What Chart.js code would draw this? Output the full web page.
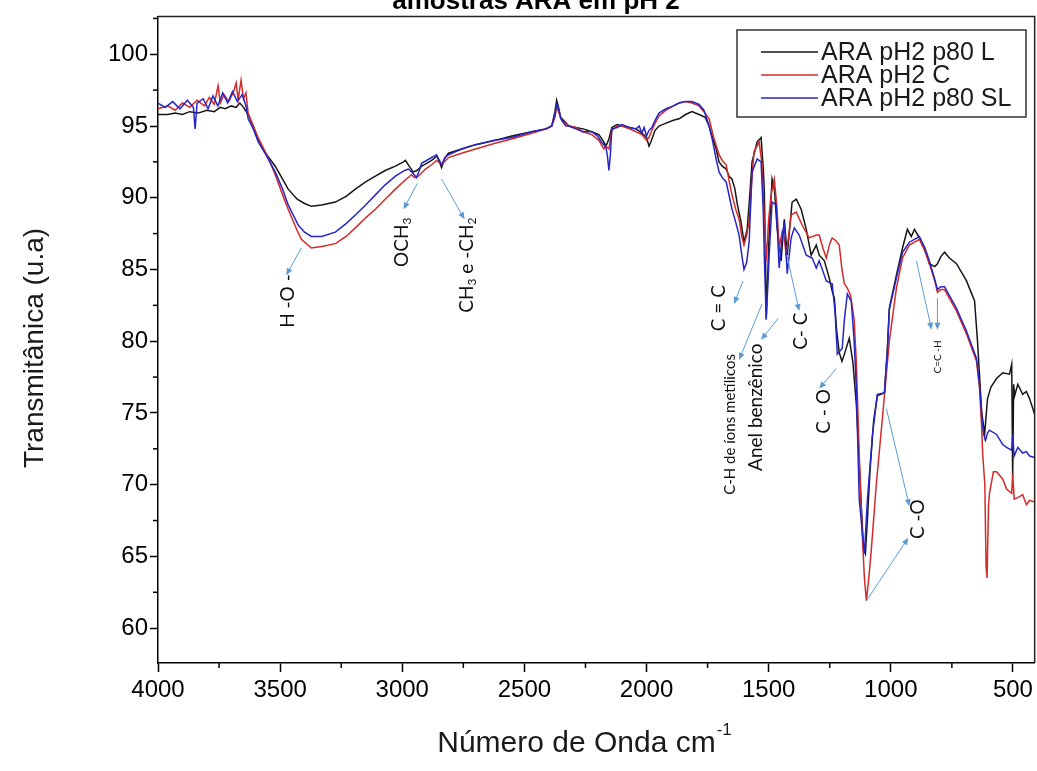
<!DOCTYPE html>
<html><head><meta charset="utf-8">
<script src="https://cdn.jsdelivr.net/npm/chart.js@4.4.1/dist/chart.umd.min.js"></script>
<style>html,body{margin:0;padding:0;background:#fff;}canvas{display:block;}</style>
</head><body>
<canvas id="c" width="1037" height="771"></canvas>
<script>
// ---------- data ----------
const seriesNames = ['ARA pH2 p80 L', 'ARA pH2 C', 'ARA pH2 p80 SL'];
const xTickValues = [4000, 3500, 3000, 2500, 2000, 1500, 1000, 500];
const yTickValues = [60, 65, 70, 75, 80, 85, 90, 95, 100];

const blackWn = [4000,3960,3930,3900,3870,3836,3800,3770,3745,3725,3700,3680,3665,3650,3631,3610,3590,3555,3520,3490,3467,3430,3400,3372,3330,3274,3230,3192,3150,3110,3070,3028,2995,2987,2972,2955,2940,2920,2900,2880,2858,2848,2839,2825,2811,2757,2700,2620,2552,2470,2413,2388,2375,2368,2360,2352,2340,2318,2290,2260,2224,2195,2175,2166,2154,2142,2120,2101,2070,2043,2019,2000,1990,1982,1965,1949,1920,1890,1867,1840,1814,1785,1760,1744,1730,1715,1703,1690,1674,1662,1650,1638,1629,1613,1601,1588,1578,1568,1547,1531,1522,1518,1513,1510,1505,1498,1486,1476,1466,1449,1436,1424,1404,1387,1367,1346,1326,1305,1293,1272,1252,1240,1231,1222,1211,1200,1190,1170,1155,1141,1125,1112,1104,1096,1085,1070,1055,1026,1014,1006,977,952,932,916,903,883,860,842,820,809,795,780,760,731,690,657,645,628,616,604,590,567,542,514,505,501,497,493,480,460,445,432,411];
const blackT = [95.8,95.8,95.9,95.8,96.0,95.9,96.1,96.0,96.3,96.2,96.4,96.3,96.6,96.3,95.8,95.0,94.0,93.0,92.2,91.3,90.6,89.9,89.6,89.4,89.5,89.7,90.1,90.6,91.1,91.5,91.9,92.2,92.5,92.6,92.2,91.8,91.9,92.2,92.4,92.6,92.9,92.5,92.1,92.8,93.1,93.4,93.7,94.0,94.3,94.6,94.8,95.0,96.0,96.8,96.3,95.6,95.4,95.0,94.9,94.8,94.6,94.4,93.9,93.6,94.1,94.9,95.1,95.0,94.9,94.8,94.5,94.2,93.6,93.9,94.7,95.0,95.2,95.4,95.5,95.8,96.0,95.8,95.6,95.0,94.2,93.4,92.5,92.2,92.0,91.5,91.3,90.6,89.6,88.3,86.9,87.8,90.0,92.5,93.9,94.2,92.0,90.6,86.0,81.6,84.0,87.5,91.3,90.5,88.0,85.6,88.5,86.0,89.7,89.9,89.2,87.8,86.0,86.7,86.0,85.6,84.4,83.5,83.0,80.8,79.2,78.6,79.1,80.2,78.5,75.6,70.0,65.6,65.2,67.5,71.0,74.5,76.2,76.4,79.5,82.3,84.6,86.5,87.8,87.3,87.8,87.2,86.3,85.4,85.2,85.4,85.9,86.2,85.8,85.4,84.2,82.8,80.0,75.1,73.5,76.0,76.8,77.4,77.8,77.7,78.4,70.5,77.0,76.2,77.0,76.3,76.5,76.0,74.9];

const redWn = [4000,3960,3930,3900,3870,3840,3810,3790,3770,3754,3745,3730,3710,3690,3680,3672,3660,3650,3640,3631,3610,3590,3555,3520,3490,3467,3430,3413,3372,3330,3274,3230,3192,3150,3110,3070,3028,2990,2962,2950,2934,2905,2880,2860,2845,2839,2811,2757,2700,2620,2552,2470,2410,2388,2375,2368,2360,2347,2318,2290,2260,2224,2195,2175,2166,2154,2142,2120,2101,2070,2043,2019,2000,1990,1978,1965,1949,1920,1890,1867,1840,1814,1785,1765,1744,1725,1703,1690,1674,1662,1650,1635,1621,1610,1601,1590,1580,1570,1560,1539,1527,1518,1510,1500,1490,1477,1467,1457,1445,1436,1428,1408,1387,1363,1334,1305,1293,1278,1264,1250,1240,1225,1211,1200,1190,1178,1165,1150,1141,1130,1117,1108,1100,1090,1080,1059,1034,1006,977,952,924,883,860,842,820,809,795,780,731,690,649,637,628,624,615,610,606,600,596,580,567,542,526,505,501,495,480,460,445,432,411];
const redT = [96.2,96.4,96.1,96.6,96.3,96.8,96.4,97.0,96.5,97.8,96.6,97.2,96.7,97.4,98.0,96.8,98.2,96.9,97.3,95.9,95.0,94.2,93.0,91.6,90.2,89.2,87.7,87.1,86.5,86.6,86.8,87.3,87.9,88.6,89.2,89.9,90.6,91.2,91.6,91.4,91.5,92.0,92.3,92.6,92.4,92.3,92.8,93.1,93.4,93.8,94.1,94.5,94.8,95.0,95.6,96.3,96.0,95.4,95.0,94.9,94.6,94.4,94.0,93.4,93.6,93.4,94.7,95.0,95.0,94.8,94.6,94.4,94.0,94.2,94.7,95.2,95.7,96.1,96.4,96.6,96.7,96.6,96.4,96.0,95.5,94.2,93.0,92.6,92.3,91.2,90.2,89.2,88.5,87.3,86.7,87.4,88.3,91.0,93.2,93.9,92.3,88.5,85.6,88.5,90.2,91.3,89.5,86.5,87.6,87.2,86.0,88.8,89.0,88.1,87.2,87.4,87.4,86.5,85.8,86.8,87.2,87.0,86.7,85.0,84.0,83.7,83.2,81.5,78.5,72.5,66.6,63.5,61.9,63.5,65.4,70.1,74.7,80.0,83.7,85.8,86.7,87.1,86.3,85.4,84.2,83.4,83.6,83.6,82.1,80.5,78.6,76.8,74.0,72.2,70.0,64.3,63.5,68.5,69.4,70.9,70.9,70.4,69.7,69.4,70.8,69.0,69.1,69.3,68.6,68.9,68.8];

const blueWn = [4000,3970,3940,3910,3880,3855,3848,3840,3815,3795,3775,3755,3735,3715,3695,3675,3655,3640,3631,3610,3590,3555,3520,3490,3467,3426,3400,3372,3330,3274,3230,3192,3150,3110,3070,3028,2990,2975,2955,2942,2930,2921,2890,2860,2848,2839,2825,2811,2757,2700,2620,2552,2470,2410,2388,2375,2368,2360,2352,2347,2330,2318,2290,2260,2224,2200,2185,2166,2160,2154,2148,2142,2120,2101,2070,2043,2030,2019,2010,2000,1990,1978,1965,1949,1920,1890,1867,1840,1814,1785,1765,1744,1730,1715,1703,1690,1674,1660,1650,1635,1621,1610,1601,1590,1580,1568,1547,1531,1522,1518,1510,1503,1498,1486,1469,1457,1445,1436,1424,1408,1395,1375,1346,1322,1305,1293,1264,1240,1228,1219,1199,1190,1178,1162,1150,1141,1129,1108,1096,1075,1055,1026,1014,1006,977,952,924,883,860,842,820,809,795,780,731,690,649,637,628,620,612,604,596,567,542,526,505,501,495,480,460,445,432,411];
const blueT = [96.6,96.3,96.7,96.2,96.8,96.3,94.8,96.6,96.9,96.2,97.1,96.4,97.3,96.6,97.4,96.7,97.2,96.4,95.5,94.8,93.9,92.9,91.8,90.6,89.5,88.1,87.6,87.3,87.3,87.6,88.2,88.8,89.5,90.2,90.9,91.5,91.9,92.0,91.7,91.4,91.9,92.4,92.7,93.0,92.6,92.3,92.8,93.0,93.4,93.7,94.0,94.2,94.6,94.8,95.0,95.8,96.5,96.2,95.6,95.4,95.0,95.0,94.8,94.6,94.6,94.3,93.9,93.5,92.9,91.9,93.0,94.8,94.9,95.1,94.9,94.8,95.0,94.5,94.9,94.3,94.7,94.9,95.4,95.9,96.2,96.4,96.6,96.7,96.7,96.5,96.1,95.0,94.0,92.7,91.8,91.4,91.1,90.0,89.2,88.3,87.4,86.0,85.0,85.5,86.9,91.8,92.7,92.5,89.0,86.0,81.5,84.0,86.0,89.7,89.5,85.1,87.2,88.3,84.7,87.2,87.9,87.4,86.0,85.8,85.1,85.6,84.2,84.0,82.0,79.1,79.5,81.5,83.3,82.8,80.0,76.7,68.9,65.2,68.9,73.5,76.3,76.4,79.3,82.2,84.4,86.2,86.9,87.3,86.5,85.6,84.3,83.6,83.8,83.8,82.3,80.7,78.8,77.0,74.9,73.5,73.1,73.6,73.8,73.5,72.8,72.6,72.4,73.5,72.0,72.6,72.2,72.3,72.0,71.9];

// band labels: text parts, centre (wavenumber, T), arrows [from wn, from T, to wn, to T]
const bandLabels = [
  {parts:[['H -O -','n']], at:[3467,82.8], size:19, arrows:[[3413,86.5,3475,84.6]]},
  {parts:[['OCH','n'],['3','sub']], at:[3003,86.9], size:19, arrows:[[2938,91.0,2995,89.2]]},
  {parts:[['CH','n'],['3','sub'],[' e -CH','n'],['2','sub']], at:[2737,85.3], size:19, arrows:[[2839,91.3,2745,88.5]]},
  {parts:[['C = C','n']], at:[1705,82.3], size:19, arrows:[[1605,84.2,1642,82.6]]},
  {parts:[['C-H de íons metílicos','n']], at:[1658,74.2], size:15, arrows:[[1527,82.6,1621,78.7]]},
  {parts:[['Anel benzênico','n']], at:[1551,75.4], size:19, arrows:[[1461,81.6,1531,80.1]]},
  {parts:[['C- C','n']], at:[1367,80.7], size:19, arrows:[[1424,85.9,1375,82.1]]},
  {parts:[['C - O','n']], at:[1276,75.1], size:19, arrows:[[1223,78.1,1293,76.7]]},
  {parts:[['C=C -H','n']], at:[809,78.9], size:10, arrows:[[895,85.6,833,80.8],[809,83.0,809,80.8]]},
  {parts:[['C -O','n']], at:[891,67.6], size:19, arrows:[[1018,75.3,924,68.5],[1100,61.9,928,66.3]]}
];

// ---------- drawing ----------
const pts = (xs, ys) => xs.map((x, i) => ({x: x, y: ys[i]}));
const colors = ['#151515', '#d42a2a', '#2626c6'];
const sans = '"Liberation Sans", Arial, sans-serif';
const annFont = 'Lato, "Open Sans", sans-serif';

const decorPlugin = {
  id: 'decor',
  afterDraw(chart) {
    const ctx = chart.ctx, a = chart.chartArea;
    const xs = chart.scales.x, ys = chart.scales.y;
    ctx.save();
    // frame top/right
    ctx.strokeStyle = '#222'; ctx.lineWidth = 1.5;
    ctx.beginPath();
    ctx.moveTo(a.left, a.top); ctx.lineTo(a.right, a.top); ctx.lineTo(a.right, a.bottom);
    ctx.stroke();
    // minor ticks
    ctx.strokeStyle = '#000'; ctx.lineWidth = 1.5;
    for (let i = 0; i < xTickValues.length - 1; i++) {
      const v = (xTickValues[i] + xTickValues[i + 1]) / 2;
      const px = xs.getPixelForValue(v);
      ctx.beginPath(); ctx.moveTo(px, a.bottom); ctx.lineTo(px, a.bottom + 5); ctx.stroke();
    }
    for (let i = 0; i < yTickValues.length; i++) {
      const v = yTickValues[i] + 2.5;
      if (v > ys.max) continue;
      const py = ys.getPixelForValue(v);
      ctx.beginPath(); ctx.moveTo(a.left, py); ctx.lineTo(a.left - 5, py); ctx.stroke();
    }
    // title (cut off at top)
    ctx.fillStyle = '#000';
    ctx.font = 'bold 26px ' + sans;
    ctx.textAlign = 'center'; ctx.textBaseline = 'alphabetic';
    ctx.fillText('amostras ARA em pH 2', 536, 9);
    // axis titles
    ctx.font = '30px ' + sans;
    const main = 'Número de Onda cm';
    const w1 = ctx.measureText(main).width;
    ctx.font = '17px ' + sans;
    const w2 = ctx.measureText('-1').width;
    const x0 = 584 - (w1 + w2) / 2;
    ctx.textAlign = 'left';
    ctx.font = '30px ' + sans;
    ctx.fillStyle = '#1a1a1a';
    ctx.fillText(main, x0, 752);
    ctx.font = '17px ' + sans;
    ctx.fillText('-1', x0 + w1 + 1, 735);
    ctx.save();
    ctx.translate(43, 348); ctx.rotate(-Math.PI / 2);
    ctx.font = '28px ' + sans; ctx.textAlign = 'center';
    ctx.fillText('Transmitânica (u.a)', 0, 0);
    ctx.restore();
    // legend
    ctx.strokeStyle = '#333'; ctx.lineWidth = 1.5;
    ctx.strokeRect(737, 30, 289, 87);
    ctx.font = '25px ' + sans; ctx.textBaseline = 'middle'; ctx.textAlign = 'left';
    const rows = [52, 75, 98];
    for (let i = 0; i < 3; i++) {
      ctx.strokeStyle = colors[i]; ctx.lineWidth = 1.4;
      ctx.beginPath(); ctx.moveTo(761, rows[i]); ctx.lineTo(818, rows[i]); ctx.stroke();
      ctx.fillStyle = '#1a1a1a';
      ctx.fillText(seriesNames[i], 821, rows[i] + 1);
    }
    // band annotations
    for (const b of bandLabels) {
      ctx.strokeStyle = '#5b9bd5'; ctx.fillStyle = '#5b9bd5'; ctx.lineWidth = 1;
      for (const ar of b.arrows) {
        const x1 = xs.getPixelForValue(ar[0]), y1 = ys.getPixelForValue(ar[1]);
        const x2 = xs.getPixelForValue(ar[2]), y2 = ys.getPixelForValue(ar[3]);
        const ang = Math.atan2(y2 - y1, x2 - x1);
        ctx.beginPath(); ctx.moveTo(x1, y1); ctx.lineTo(x2 - 5 * Math.cos(ang), y2 - 5 * Math.sin(ang)); ctx.stroke();
        ctx.beginPath();
        ctx.moveTo(x2, y2);
        ctx.lineTo(x2 - 7 * Math.cos(ang) + 3 * Math.sin(ang), y2 - 7 * Math.sin(ang) - 3 * Math.cos(ang));
        ctx.lineTo(x2 - 7 * Math.cos(ang) - 3 * Math.sin(ang), y2 - 7 * Math.sin(ang) + 3 * Math.cos(ang));
        ctx.closePath(); ctx.fill();
      }
      const cx = xs.getPixelForValue(b.at[0]), cy = ys.getPixelForValue(b.at[1]);
      ctx.save();
      ctx.translate(cx, cy); ctx.rotate(-Math.PI / 2);
      ctx.fillStyle = '#111'; ctx.textBaseline = 'middle'; ctx.textAlign = 'left';
      let total = 0;
      for (const p of b.parts) {
        ctx.font = (p[1] === 'sub' ? Math.round(b.size * 0.62) : b.size) + 'px ' + annFont;
        total += ctx.measureText(p[0]).width;
      }
      let x = -total / 2;
      for (const p of b.parts) {
        const sub = p[1] === 'sub';
        ctx.font = (sub ? Math.round(b.size * 0.62) : b.size) + 'px ' + annFont;
        ctx.fillText(p[0], x, sub ? b.size * 0.3 : 0);
        x += ctx.measureText(p[0]).width;
      }
      ctx.restore();
    }
    ctx.restore();
  }
};

const ds = (i, xs, ys, order) => ({
  label: seriesNames[i], data: pts(xs, ys), borderColor: colors[i], borderWidth: 1.5,
  pointRadius: 0, tension: 0, fill: false, order: order
});

new Chart(document.getElementById('c'), {
  type: 'line',
  data: {datasets: [ds(0, blackWn, blackT, 2), ds(1, redWn, redT, 1), ds(2, blueWn, blueT, 0)]},
  options: {
    responsive: false, animation: false,
    layout: {padding: {left: 0, right: 2, top: 14, bottom: 0}},
    plugins: {legend: {display: false}, tooltip: {enabled: false}, title: {display: false}},
    scales: {
      x: {
        type: 'linear', reverse: true, min: 411, max: 4000,
        afterBuildTicks: s => { s.ticks = xTickValues.map(v => ({value: v})); },
        afterFit: s => { s.height = 108; },
        grid: {drawOnChartArea: false, drawTicks: true, tickLength: 9, tickWidth: 1.5, tickColor: '#000'},
        border: {display: true, color: '#000', width: 1.5},
        ticks: {font: {family: sans, size: 24}, color: '#000', padding: 4, maxRotation: 0, autoSkip: false, callback: v => String(v)}
      },
      y: {
        type: 'linear', min: 57.57, max: 102.64,
        afterBuildTicks: s => { s.ticks = yTickValues.map(v => ({value: v})); },
        afterFit: s => { s.width = 158; },
        grid: {drawOnChartArea: false, drawTicks: true, tickLength: 8, tickWidth: 1.5, tickColor: '#000'},
        border: {display: true, color: '#000', width: 1.5},
        ticks: {font: {family: sans, size: 24}, color: '#000', padding: 2, autoSkip: false, callback: v => String(v)}
      }
    }
  },
  plugins: [decorPlugin]
});
</script>
</body></html>
